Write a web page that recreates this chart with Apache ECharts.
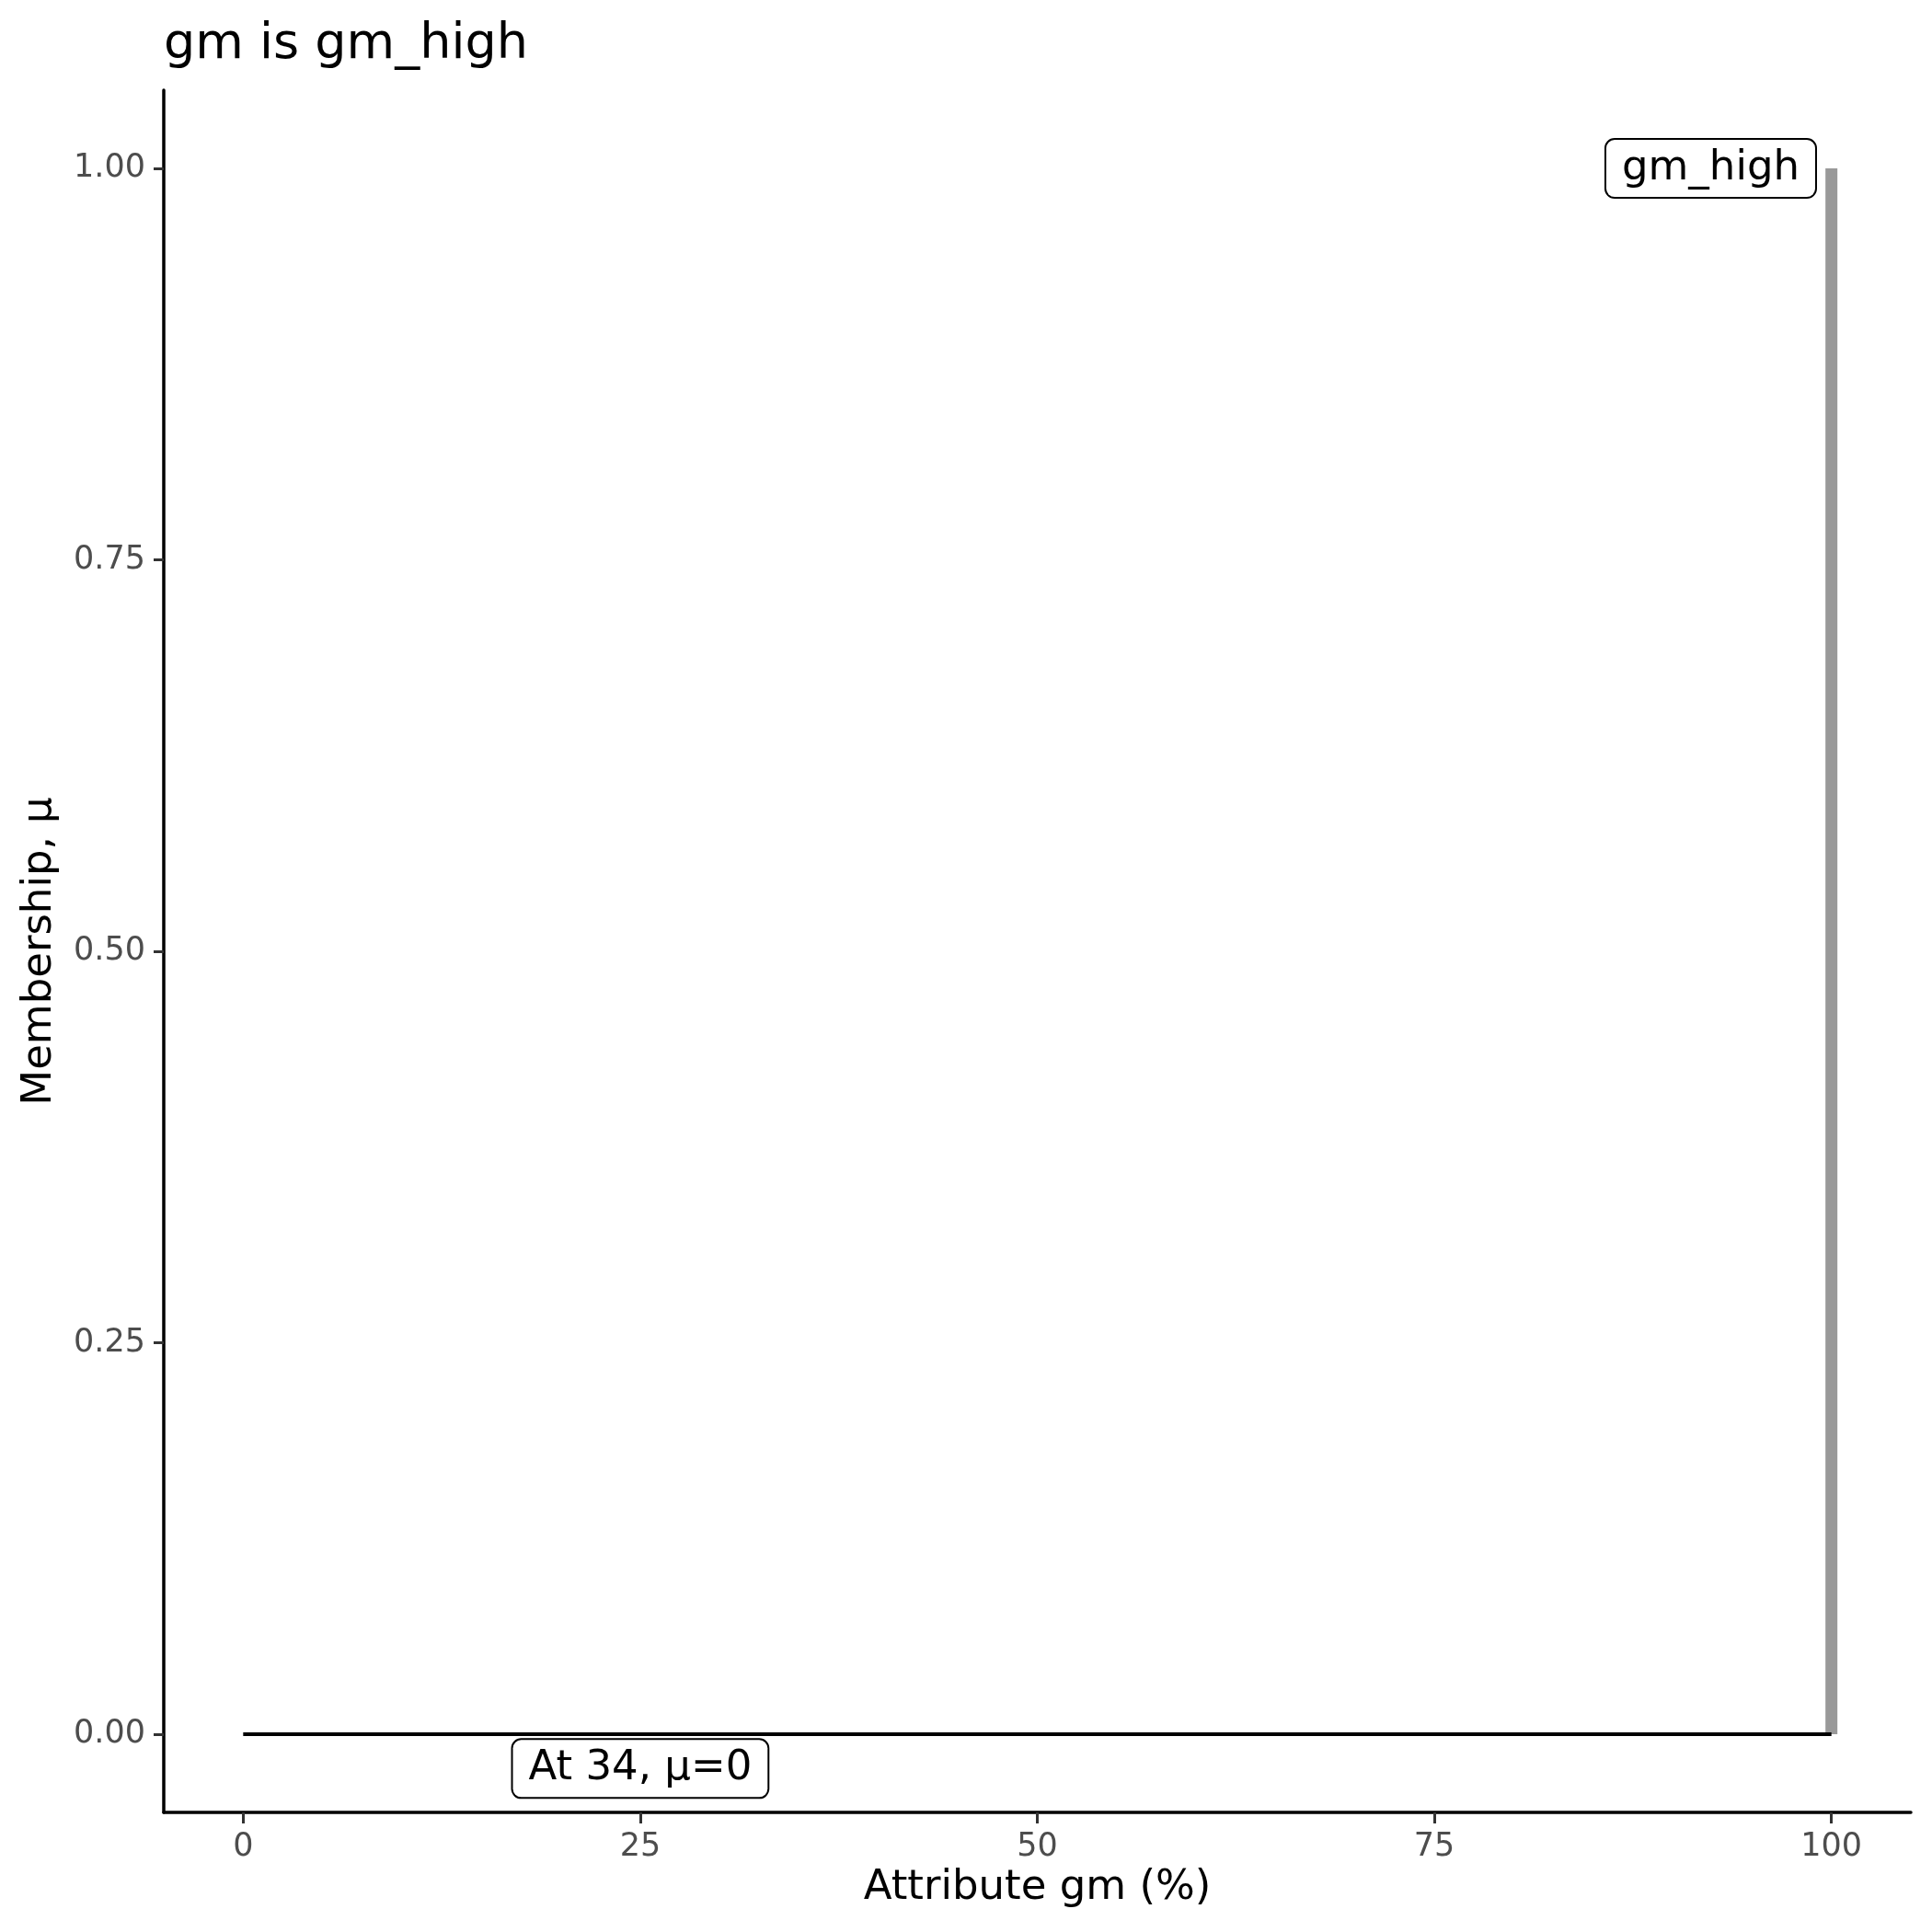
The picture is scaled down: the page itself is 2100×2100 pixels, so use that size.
<!DOCTYPE html>
<html>
<head>
<meta charset="utf-8">
<script src="https://cdn.jsdelivr.net/npm/echarts@6/dist/echarts.min.js"></script>
<style>
  html, body { margin: 0; padding: 0; background: #fff; }
  #chart { width: 2100px; height: 2100px; }
</style>
</head>
<body>
<div id="chart"></div>
<script>
// membership curve for gm_high
var curveX = [0, 100];
var curveY = [0, 0];
// grey bar marking the max membership
var barX = [100, 100];
var barY = [0, 1];
// label boxes
var labelText = ['gm_high', 'At 34, \u03bc=0'];
var labelX = [92.4, 25];
var labelY = [1.0, -0.022];
// tick labels
var xTicks = [0, 25, 50, 75, 100];
var yTicks = [0, 0.25, 0.5, 0.75, 1];

var FONT = 'DejaVu Sans';

var chart = echarts.init(document.getElementById('chart'), null, { renderer: 'canvas' });

var pairs = function (xs, ys) {
    return xs.map(function (x, i) { return [x, ys[i]]; });
};

var option = {
    backgroundColor: '#ffffff',
    animation: false,
    title: {
        text: 'gm is gm_high',
        left: 173,
        top: 17,
        textStyle: { fontFamily: FONT, fontSize: 54, fontWeight: 'normal', color: '#000' }
    },
    grid: { left: 178, right: 23, top: 98, bottom: 130, containLabel: false },
    xAxis: {
        type: 'value',
        min: -5,
        max: 105,
        name: 'Attribute gm (%)',
        nameLocation: 'middle',
        nameGap: 58,
        nameTextStyle: { fontFamily: FONT, fontSize: 45, color: '#000' },
        axisLine: { show: true, onZero: false, lineStyle: { color: '#000', width: 3.5 } },
        axisTick: { show: true, length: 12, customValues: xTicks, lineStyle: { color: '#333', width: 3 } },
        axisLabel: {
            customValues: xTicks,
            margin: 20,
            fontFamily: FONT,
            fontSize: 35,
            color: '#4d4d4d'
        },
        splitLine: { show: false }
    },
    yAxis: {
        type: 'value',
        min: -0.05,
        max: 1.05,
        name: 'Membership, \u03bc',
        nameLocation: 'middle',
        nameGap: 112,
        nameTextStyle: { fontFamily: FONT, fontSize: 45, color: '#000' },
        axisLine: { show: true, onZero: false, lineStyle: { color: '#000', width: 3.5 } },
        axisTick: { show: true, length: 11, customValues: yTicks, lineStyle: { color: '#333', width: 3 } },
        axisLabel: {
            customValues: yTicks,
            margin: 20,
            fontFamily: FONT,
            fontSize: 35,
            color: '#4d4d4d',
            formatter: function (v) { return v.toFixed(2); }
        },
        splitLine: { show: false }
    },
    series: [
        {
            type: 'line',
            data: pairs(barX, barY),
            symbol: 'none',
            lineStyle: { color: '#999999', width: 13, cap: 'butt' },
            z: 2
        },
        {
            type: 'line',
            data: pairs(curveX, curveY),
            symbol: 'none',
            lineStyle: { color: '#000000', width: 4, cap: 'butt' },
            z: 3
        },
        {
            type: 'scatter',
            symbolSize: 0,
            itemStyle: { opacity: 1 },
            data: labelText.map(function (t, i) {
                return { value: [labelX[i], labelY[i]], name: t };
            }),
            label: {
                show: true,
                position: 'inside',
                opacity: 1,
                formatter: function (p) { return p.name; },
                fontFamily: FONT,
                fontSize: 45,
                lineHeight: 52,
                color: '#000',
                backgroundColor: '#ffffff',
                borderColor: '#000',
                borderWidth: 2,
                borderRadius: 9,
                padding: [5, 17, 5, 17]
            },
            z: 5
        }
    ]
};

chart.setOption(option);
</script>
</body>
</html>
